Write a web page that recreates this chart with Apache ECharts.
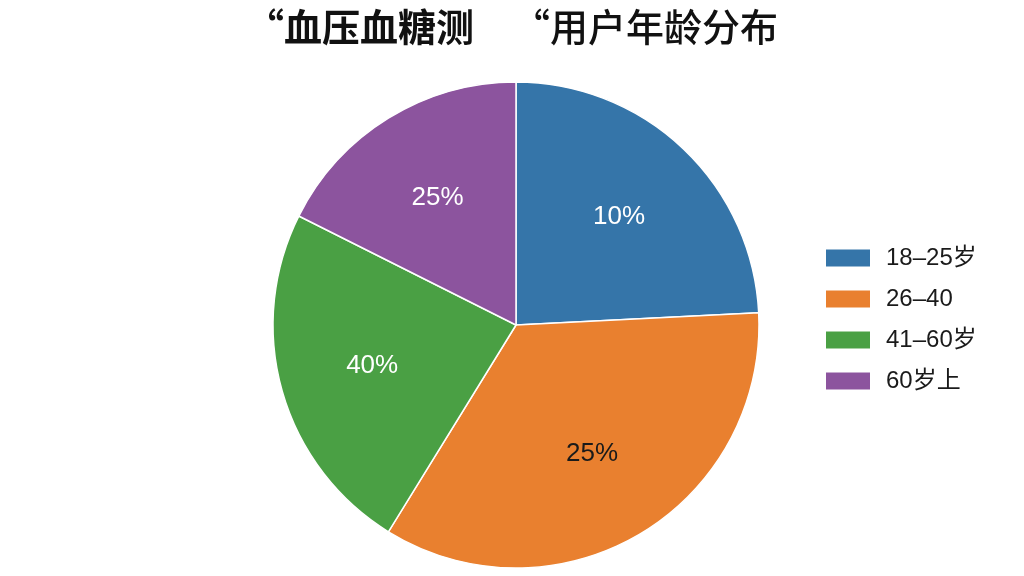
<!DOCTYPE html>
<html>
<head>
<meta charset="utf-8">
<script src="https://cdn.jsdelivr.net/npm/echarts@6/dist/echarts.min.js"></script>
<style>html,body{margin:0;padding:0;background:#fff;}#c{width:1024px;height:576px;}</style>
</head>
<body>
<div id="c"></div>
<script>
var categories = ['18–25岁', '26–40', '41–60岁', '60岁上'];
var sliceValues = [24.2, 34.6, 23.6, 17.6];
var labelTexts = ['10%', '25%', '40%', '25%'];
var colors = ['#3575a9', '#e9802f', '#4aa044', '#8c549e'];
var labelColors = ['#ffffff', '#1a1a1a', '#ffffff', '#ffffff'];

var chart = echarts.init(document.getElementById('c'));
var pieData = categories.map(function (n, i) {
  return { name: n, value: sliceValues[i], itemStyle: { color: colors[i] } };
});
var labelData = categories.map(function (n, i) {
  return { name: n, value: sliceValues[i],
    label: { color: labelColors[i] } };
});
chart.setOption({
  backgroundColor: '#ffffff',
  title: {
    left: 'center', top: 3,
    text: '{b|“血压血糖测}{n|　“用户年龄分布}',
    textStyle: {
      rich: {
        b: { fontSize: 38, fontWeight: 'bold', color: '#111', fontFamily: 'Noto Sans CJK SC' },
        n: { fontSize: 38, fontWeight: 500, color: '#111', fontFamily: 'Noto Sans CJK SC' }
      }
    }
  },
  legend: {
    orient: 'vertical', left: 819, top: 241,
    itemWidth: 46, itemHeight: 19, itemGap: 17,
    icon: 'rect',
    data: categories,
    textStyle: { fontSize: 24, lineHeight: 22, color: '#1a1a1a', fontFamily: 'Liberation Sans, Noto Sans CJK SC', padding: [0, 0, 0, 10] }
  },
  series: [{
    type: 'pie',
    center: [516, 325],
    radius: [0, 243],
    startAngle: 90,
    clockwise: true,
    data: pieData,
    label: { show: false },
    labelLine: { show: false },
    itemStyle: { borderColor: '#ffffff', borderWidth: 1.5 },
    silent: true
  }, {
    type: 'pie',
    center: [516, 325],
    radius: [50, 243],
    startAngle: 90,
    clockwise: true,
    data: labelData,
    itemStyle: { color: 'rgba(0,0,0,0)' },
    label: {
      show: true, position: 'inside',
      fontSize: 26, fontFamily: 'Liberation Sans',
      formatter: function (p) { return labelTexts[p.dataIndex]; }
    },
    labelLine: { show: false },
    silent: true,
    legendHoverLink: false
  }]
});
</script>
</body>
</html>
